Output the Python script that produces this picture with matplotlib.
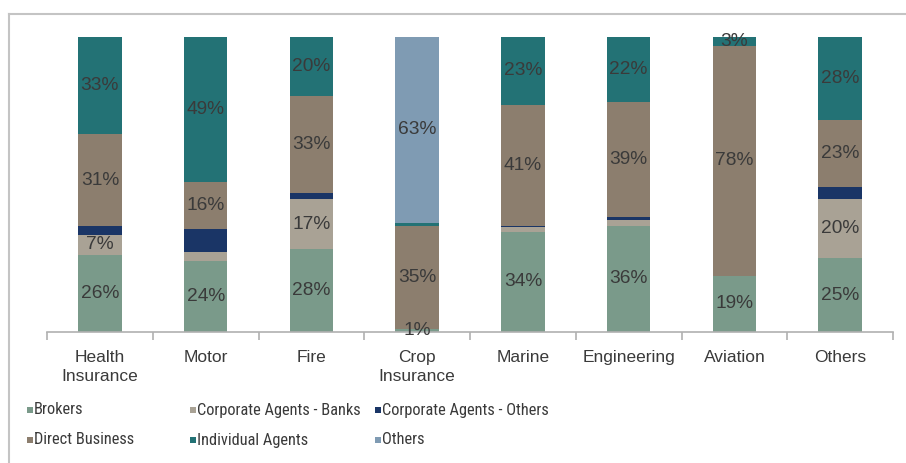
import matplotlib
matplotlib.use("Agg")
import matplotlib.pyplot as plt
from matplotlib import font_manager as fm
from matplotlib.patches import Rectangle
from matplotlib.lines import Line2D
import numpy as np

categories = ['Health\nInsurance', 'Motor', 'Fire', 'Crop\nInsurance', 'Marine',
              'Engineering', 'Aviation', 'Others']
series_names = ['Brokers', 'Corporate Agents - Banks', 'Corporate Agents - Others',
                'Direct Business', 'Individual Agents', 'Others']
brokers = [26, 24, 28, 1, 34, 36, 19, 25]
banks = [7, 3, 17, 0, 1.5, 2, 0, 20]
corp_others = [3, 8, 2, 0, 0.5, 1, 0, 4]
direct = [31, 16, 33, 35, 41, 39, 78, 23]
individual = [33, 49, 20, 1, 23, 22, 3, 28]
others = [0, 0, 0, 63, 0, 0, 0, 0]
series_values = [brokers, banks, corp_others, direct, individual, others]
colors = ['#7a9a8a', '#a9a295', '#1a3566', '#8c7e6e', '#237275', '#7f9bb3']
# small segments that still carry a label in the source
small_labels = [('Crop\nInsurance', 'Brokers'), ('Aviation', 'Individual Agents')]

names = {f.name for f in fm.fontManager.ttflist}
base_font = 'Liberation Sans' if 'Liberation Sans' in names else 'DejaVu Sans'
legend_font, legend_size = base_font, 10.2
for cand in ['Liberation Sans Narrow', 'Arial Narrow', 'Roboto Condensed',
             'Open Sans Condensed', 'DejaVu Sans Condensed']:
    if cand in names:
        legend_font, legend_size = cand, 11.8
        break
plt.rcParams['font.family'] = [base_font, 'DejaVu Sans']

W, H = 906, 463
fig = plt.figure(figsize=(W / 100, H / 100), dpi=100)

# outer frame (top and left visible)
fig.add_artist(Line2D([9 / W, 9 / W], [0, 1 - 14 / H], transform=fig.transFigure,
                      color='#c4c4c4', lw=1.5))
fig.add_artist(Line2D([9 / W, 1], [1 - 14 / H, 1 - 14 / H], transform=fig.transFigure,
                      color='#c4c4c4', lw=1.5))

ax = fig.add_axes([47 / W, 1 - 332 / H, (893 - 47) / W, (332 - 37) / H])
x = np.arange(len(categories))
bottom = np.zeros(len(categories))
text_color = '#3a3a3a'
for name, vals, col in zip(series_names, series_values, colors):
    vals = np.array(vals, dtype=float)
    ax.bar(x, vals, bottom=bottom, width=0.41, color=col, edgecolor='none')
    for i, v in enumerate(vals):
        show = (v >= 5 and name != 'Corporate Agents - Others') or \
               ((categories[i], name) in small_labels)
        if show and v > 0:
            ax.text(x[i], bottom[i] + v / 2, f'{v:.0f}%', ha='center', va='center',
                    fontsize=13.8, color=text_color)
    bottom += vals

ax.set_xlim(-0.5, len(categories) - 0.5)
ax.set_ylim(0, 100)
ax.set_yticks([])
for s in ['left', 'right', 'top']:
    ax.spines[s].set_visible(False)
ax.spines['bottom'].set_color('#b0b0b0')
ax.spines['bottom'].set_linewidth(1.2)
ax.set_xticks(np.arange(len(categories) + 1) - 0.5, minor=False)
ax.set_xticklabels([])
ax.tick_params(axis='x', length=6, color='#b0b0b0', width=1.2)
ax.set_xticks(x, minor=True)
ax.set_xticklabels(categories, minor=True, fontsize=12.5, color=text_color, linespacing=1.3)
ax.tick_params(axis='x', which='minor', length=0, pad=13)

# legend
col_x = [27, 190, 375]
row_y = [410, 440]
for k, (name, col) in enumerate(zip(series_names, colors)):
    r, c = divmod(k, 3)
    xm, ym = col_x[c], row_y[r]
    fig.add_artist(Rectangle((xm / W, 1 - (ym + 3) / H), 6 / W, 6 / H,
                             transform=fig.transFigure, color=col, lw=0))
    fig.text((xm + 7) / W, 1 - ym / H, name, ha='left', va='center',
             fontsize=legend_size, color=text_color, family=[legend_font, 'DejaVu Sans'])

fig.savefig('out.png', dpi=100)
